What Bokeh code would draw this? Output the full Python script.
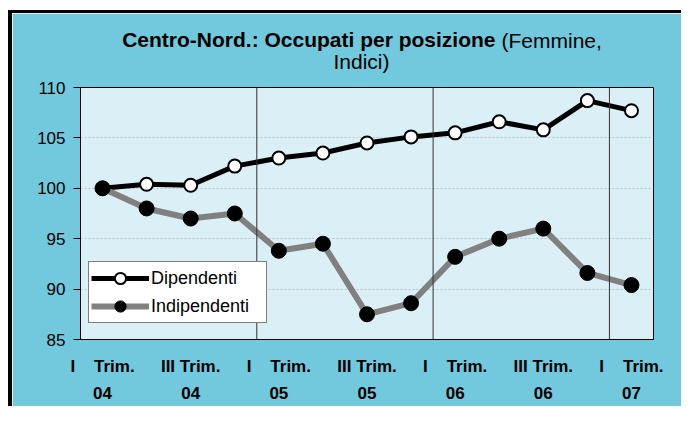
from bokeh.plotting import figure
from bokeh.models import (Range1d, Span, Label, Legend, LegendItem,
                          FixedTicker, ColumnDataSource)
from bokeh.embed import file_html
from bokeh.resources import INLINE

quarters = ["I Trim. 04", "II Trim. 04", "III Trim. 04", "IV Trim. 04",
            "I Trim. 05", "II Trim. 05", "III Trim. 05", "IV Trim. 05",
            "I Trim. 06", "II Trim. 06", "III Trim. 06", "IV Trim. 06",
            "I Trim. 07"]
tick_text = ["I\u00a0\u00a0\u00a0\u00a0Trim.\n04", "", "III Trim.\n04", "",
             "I\u00a0\u00a0\u00a0\u00a0Trim.\n05", "", "III Trim.\n05", "",
             "I\u00a0\u00a0\u00a0\u00a0Trim.\n06", "", "III Trim.\n06", "",
             "I\u00a0\u00a0\u00a0\u00a0Trim.\n07"]
dipendenti = [100.0, 100.4, 100.3, 102.2, 103.0, 103.5, 104.5,
              105.1, 105.5, 106.6, 105.8, 108.7, 107.7]
indipendenti = [100.0, 98.0, 97.0, 97.5, 93.8, 94.5, 87.5,
                88.6, 93.2, 95.0, 96.0, 91.6, 90.4]
y_ticks = [85, 90, 95, 100, 105, 110]
title_bold = "Centro-Nord.: Occupati per posizione"
title_rest1 = "(Femmine,"
title_rest2 = "Indici)"

OUTER = "#72C9DD"
INNER = "#DAF0F6"

pos = list(range(len(quarters)))
x_ticks = [i for i, t in enumerate(tick_text) if t]
year_breaks = [i - 0.5 for i, q in enumerate(quarters) if q.startswith("I Trim.") and i > 0]

src = ColumnDataSource(dict(x=pos, q=quarters, dip=dipendenti, ind=indipendenti))

p = figure(x_range=Range1d(-0.5, len(quarters) - 0.5), y_range=Range1d(85, 110),
           frame_width=573, frame_height=252, output_backend="svg", toolbar_location=None,
           min_border_left=68, min_border_right=28, min_border_top=74,
           min_border_bottom=66,
           background_fill_color=INNER, border_fill_color=OUTER,
           outline_line_color="black", outline_line_width=1)
p.styles = {"margin-left": "8px", "margin-top": "10px",
            "border-left": "4px solid black", "border-top": "3px solid black"}

# axes
xa = p.xaxis[0]
xa.ticker = FixedTicker(ticks=x_ticks)
xa.major_label_overrides = {i: tick_text[i] for i in x_ticks}
xa.major_tick_line_color = None
xa.minor_tick_line_color = None
xa.axis_line_color = "black"
xa.major_label_text_font = "Liberation Sans"
xa.major_label_text_font_style = "bold"
xa.major_label_text_font_size = "17px"
xa.major_label_text_color = "black"
xa.major_label_text_line_height = 1.45
xa.major_label_standoff = 11

ya = p.yaxis[0]
ya.ticker = FixedTicker(ticks=y_ticks)
ya.major_tick_out = 7
ya.major_tick_in = 0
ya.minor_tick_line_color = None
ya.axis_line_color = "black"
ya.major_tick_line_color = "black"
ya.major_label_text_font = "Liberation Sans"
ya.major_label_text_font_size = "17px"
ya.major_label_text_color = "black"
ya.major_label_standoff = 8

p.xgrid.grid_line_color = None
p.ygrid.ticker = FixedTicker(ticks=y_ticks)
p.ygrid.grid_line_color = "#B8C4C8"
p.ygrid.grid_line_dash = "2 2"

for b in year_breaks:
    p.add_layout(Span(location=b, dimension="height", line_color="#333333", line_width=1))

r1 = p.line("x", "dip", source=src, line_color="black", line_width=5)
r1m = p.scatter("x", "dip", source=src, size=13, fill_color="white",
                line_color="black", line_width=2)
r2 = p.line("x", "ind", source=src, line_color="#808080", line_width=6)
r2m = p.scatter("x", "ind", source=src, size=15, fill_color="black",
                line_color="black")

legend = Legend(items=[LegendItem(label="Dipendenti", renderers=[r1, r1m]),
                       LegendItem(label="Indipendenti", renderers=[r2, r2m])],
                location=(8, 16), border_line_color="black", border_line_width=1,
                background_fill_color="white", background_fill_alpha=1,
                glyph_width=58, glyph_height=28, label_height=28, label_width=113,
                spacing=0, padding=2, margin=0, label_standoff=2,
                label_text_font="Liberation Sans", label_text_font_size="18px",
                label_text_color="black")
p.add_layout(legend)

# title: each label added "above" gets its own stacked panel (nearest first)
common = dict(x_units="screen", y_units="screen", text_baseline="middle",
              text_font="Liberation Sans", text_font_size="21px", text_color="black")
p.add_layout(Label(x=281, y=26, text=title_rest2, text_align="center", **common), "above")
p.add_layout(Label(x=415, y=25.5, text=title_bold, text_align="right",
                   text_font_style="bold", **common), "above")
p.add_layout(Label(x=421, y=1, text=title_rest1, text_align="left", **common), "above")

open("out.html", "w").write(file_html(p, INLINE))
